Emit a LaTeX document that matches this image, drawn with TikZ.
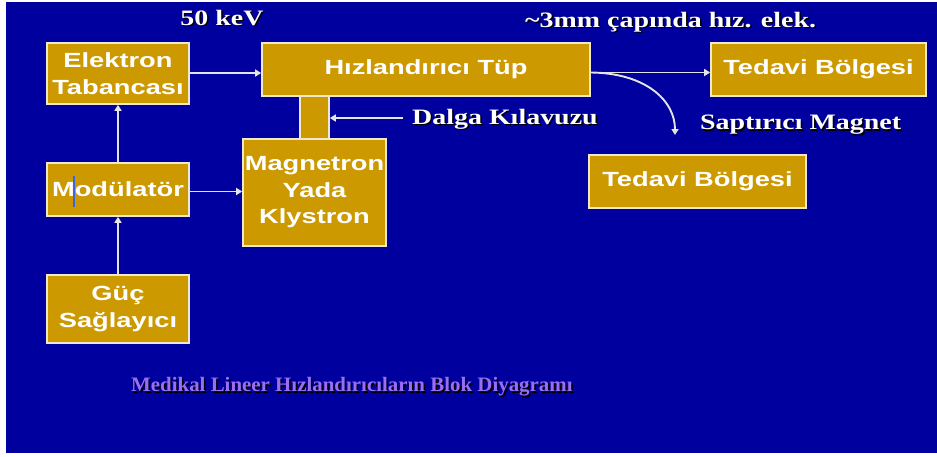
\documentclass[tikz,border=0pt]{standalone}
\usepackage{fontspec}
\usetikzlibrary{arrows.meta}
\newfontfamily\boxfont[FakeStretch=1.33]{Liberation Sans}
\newfontfamily\serfont[FakeStretch=1.27]{Liberation Serif}
\newfontfamily\capfont[FakeStretch=1.02]{Liberation Serif}
\definecolor{bgblue}{RGB}{0,0,158}
\definecolor{gold}{RGB}{204,153,0}
\definecolor{rim}{RGB}{240,232,205}
\definecolor{wire}{RGB}{228,228,228}
\definecolor{violet}{RGB}{153,110,245}
\definecolor{cursor}{RGB}{60,100,230}
\tikzset{
  blockbox/.style={draw=rim, fill=gold, line width=1.6pt, inner sep=0pt, align=center,
    text=white, font=\boxfont\bfseries\fontsize{20.5}{26.5}\selectfont},
  conn/.style={draw=wire, line width=1.9pt, -{Triangle[width=7pt,length=6pt]}},
  lbl/.style={inner sep=0pt, text=white, font=\serfont\bfseries\fontsize{22}{26}\selectfont},
  lblshadow/.style={inner sep=0pt, text=black, font=\serfont\bfseries\fontsize{22}{26}\selectfont},
  caplbl/.style={inner sep=0pt, font=\capfont\bfseries\fontsize{20.5}{24}\selectfont}
}
\begin{document}
\begin{tikzpicture}[x=1pt,y=-1pt]
\useasboundingbox (0,0) rectangle (937,456);
\fill[white] (0,0) rectangle (937,456);
\fill[bgblue] (6,2) rectangle (937,453);

% waveguide stub
\node[blockbox, minimum width=29pt, minimum height=46pt] (stub) at (314.5,118) {};

\node[blockbox, minimum width=142pt, minimum height=61pt] (elek) at (118,73.5) {Elektron\\Tabancası};
\node[blockbox, minimum width=328pt, minimum height=53pt] (hiz) at (426,69.5) {Hızlandırıcı Tüp};
\node[blockbox, minimum width=143pt, minimum height=107pt] (mag) at (314.5,192.5) {Magnetron\\Yada\\Klystron};
\node[blockbox, minimum width=142pt, minimum height=53pt] (mod) at (118,189.5) {Modülatör};
\node[blockbox, minimum width=142pt, minimum height=68pt] (guc) at (118,309) {Güç\\Sağlayıcı};
\node[blockbox, minimum width=215pt, minimum height=53pt] (ted1) at (818.5,69.5) {Tedavi Bölgesi};
\node[blockbox, minimum width=217pt, minimum height=53pt] (ted2) at (697.5,181.5) {Tedavi Bölgesi};

% text cursor artefact in "Modülatör"
\draw[cursor, line width=1.2pt] (74,176) -- (74,207);

% connectors
\draw[conn] ([yshift=0.5pt]elek.east) -- ([yshift=0.5pt]elek.east -| hiz.west);
\draw[conn] (mod.north) -- (elek.south);
\draw[conn] (guc.north) -- (mod.south);
\draw[conn] ([yshift=-2pt]mod.east) -- ([yshift=-2pt]mod.east -| mag.west);
\coordinate (dk) at (403,118);
\draw[conn] (dk) -- (stub.east);
\draw[conn] ([yshift=-3pt]hiz.east) coordinate (h1) -- (h1 -| ted1.west);
\coordinate (dtip) at (675,135);
\draw[conn] (h1) .. controls (645,73) and (675,100) .. (dtip);

% labels with shadows
\node[lblshadow] (kevs) at (223.5,19.5) {50 keV};
\node[lbl] (kev) at (222,18) {50 keV};
\node[lblshadow, anchor=west] (mms) at (526.5,23.5) {\textasciitilde3mm çapında hız. elek.};
\node[lbl, anchor=west] (mm) at (525,22) {\textasciitilde3mm çapında hız. elek.};
\node[lblshadow, anchor=west] (dalgas) at (413.5,120.5) {Dalga Kılavuzu};
\node[lbl, anchor=west] (dalga) at (412,119) {Dalga Kılavuzu};
\node[lblshadow, anchor=west] (saps) at (701.5,126.5) {Saptırıcı Magnet};
\node[lbl, anchor=west] (sap) at (700,125) {Saptırıcı Magnet};
\node[caplbl, text=black, anchor=west] (caps) at (132.5,388.5) {Medikal Lineer Hızlandırıcıların Blok Diyagramı};
\node[caplbl, text=violet, anchor=west] (cap) at (131,387) {Medikal Lineer Hızlandırıcıların Blok Diyagramı};
\end{tikzpicture}
\end{document}
